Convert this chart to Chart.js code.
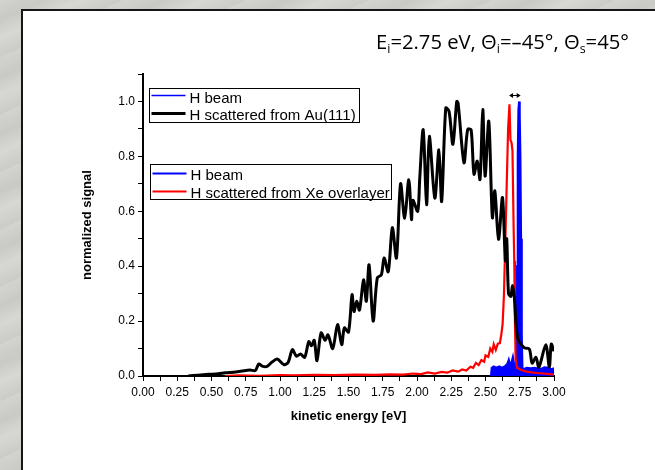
<!DOCTYPE html>
<html>
<head>
<meta charset="utf-8">
<script src="https://cdn.jsdelivr.net/npm/chart.js@4.4.1/dist/chart.umd.min.js"></script>
<style>
  html, body { margin: 0; padding: 0; }
  body {
    width: 655px; height: 470px; overflow: hidden; position: relative;
    background: repeating-linear-gradient(155deg, #d3d3d0 0px, #c9c9c6 18px, #d7d7d4 34px, #cbcbc8 52px);
  }
  #panel {
    position: absolute; left: 21px; top: 9px; right: 0; bottom: 0;
    background: #fff; border-left: 2px solid #161616; border-top: 2px solid #161616;
  }
  #chart { position: absolute; left: 0; top: 0; }
</style>
</head>
<body>
<div id="panel"></div>
<canvas id="chart" width="655" height="470"></canvas>
<script>
// H scattered from Au(111) (black)
var auX = [0.33, 0.40, 0.48, 0.55, 0.60, 0.66, 0.72, 0.78, 0.82, 0.845, 0.87, 0.906, 0.94, 0.98, 1.03, 1.06, 1.09, 1.12, 1.15, 1.18,
           1.21, 1.23, 1.25, 1.27, 1.30, 1.33, 1.35, 1.385, 1.42, 1.45, 1.47, 1.50, 1.526, 1.54, 1.56, 1.58, 1.61, 1.63, 1.65, 1.68,
           1.71, 1.74, 1.76, 1.79, 1.82, 1.85, 1.88, 1.91, 1.94, 1.96, 1.97, 2.005, 2.02, 2.045, 2.07, 2.09, 2.13, 2.16, 2.18, 2.21,
           2.234, 2.262, 2.29, 2.30, 2.343, 2.37, 2.395, 2.416, 2.44, 2.46, 2.48, 2.497, 2.524, 2.55, 2.568, 2.595, 2.624, 2.645, 2.655, 2.668,
           2.685, 2.697, 2.71, 2.734, 2.78, 2.82, 2.84, 2.868, 2.89, 2.94, 2.966, 2.98, 3.00];
var auY = [0.0, 0.003, 0.006, 0.008, 0.012, 0.014, 0.018, 0.022, 0.02, 0.044, 0.036, 0.035, 0.05, 0.062, 0.041, 0.05, 0.096, 0.072, 0.08, 0.068,
           0.125, 0.11, 0.13, 0.056, 0.157, 0.13, 0.15, 0.10, 0.187, 0.114, 0.175, 0.16, 0.296, 0.235, 0.272, 0.24, 0.35, 0.272, 0.405, 0.20,
           0.357, 0.369, 0.43, 0.38, 0.54, 0.43, 0.70, 0.575, 0.715, 0.57, 0.64, 0.60, 0.72, 0.897, 0.624, 0.873, 0.648, 0.824, 0.636, 0.976,
           0.964, 0.844, 1.0, 0.994, 0.777, 0.898, 0.897, 0.735, 0.783, 0.716, 0.971, 0.728, 0.928, 0.577, 0.674, 0.498, 0.65, 0.42, 0.50, 0.30,
           0.29, 0.33, 0.29, 0.14, 0.104, 0.098, 0.047, 0.068, 0.032, 0.114, 0.032, 0.116, 0.09];

// H scattered from Xe overlayer (red)
var xeX = [0.60, 0.70, 0.85, 1.00, 1.10, 1.25, 1.40, 1.55, 1.70, 1.80, 1.90, 1.97, 2.03, 2.08, 2.13, 2.18, 2.22, 2.26, 2.30, 2.33,
           2.36, 2.39, 2.41, 2.43, 2.45, 2.47, 2.49, 2.50, 2.52, 2.535, 2.55, 2.56, 2.575, 2.59, 2.605, 2.615, 2.625, 2.635, 2.645, 2.655,
           2.665, 2.675, 2.682, 2.69, 2.697, 2.705, 2.71, 2.715, 2.72, 2.73, 2.76, 2.80, 2.85, 2.90, 2.95, 3.00];
var xeY = [0.0, 0.002, 0.001, 0.003, 0.002, 0.004, 0.003, 0.005, 0.004, 0.006, 0.005, 0.009, 0.007, 0.013, 0.009, 0.015, 0.012, 0.02, 0.016, 0.024,
           0.02, 0.034, 0.03, 0.048, 0.04, 0.058, 0.052, 0.075, 0.07, 0.10, 0.088, 0.115, 0.095, 0.118, 0.12, 0.15, 0.19, 0.30, 0.50, 0.70,
           0.90, 0.99, 0.86, 0.85, 0.82, 0.55, 0.42, 0.20, 0.06, 0.03, 0.022, 0.016, 0.012, 0.01, 0.008, 0.005];

// H beam (blue)
var beamX = [2.54, 2.545, 2.56, 2.58, 2.60, 2.62, 2.64, 2.66, 2.67, 2.68, 2.69, 2.70, 2.71, 2.72,
             2.725, 2.73, 2.735, 2.74, 2.745, 2.75, 2.755, 2.76, 2.765, 2.77, 2.78, 2.80, 2.83, 2.86, 2.90, 2.93,
             2.96, 2.98, 3.00];
var beamY = [0.0, 0.03, 0.035, 0.03, 0.035, 0.03, 0.035, 0.045, 0.06, 0.04, 0.05, 0.07, 0.04, 0.04,
             0.05, 0.40, 0.80, 0.97, 1.0, 0.95, 0.80, 0.50, 0.15, 0.03, 0.025, 0.03, 0.028, 0.03, 0.025, 0.032,
             0.03, 0.025, 0.028];

var xMajorTicks = [0, 0.25, 0.5, 0.75, 1, 1.25, 1.5, 1.75, 2, 2.25, 2.5, 2.75, 3];
var yMajorTicks = [0, 0.2, 0.4, 0.6, 0.8, 1.0];

var legendTop = ['H beam', 'H scattered from Au(111)'];
var legendBottom = ['H beam', 'H scattered from Xe overlayer'];

var arrowX = [2.672, 2.757];
var arrowY = 1.025;

function toPoints(xs, ys) {
    return xs.map(function (x, i) { return { x: x, y: ys[i] }; });
}

function isMajor(v, list) {
    return list.some(function (m) { return Math.abs(m - v) < 1e-6; });
}

var overlay = {
    id: 'overlay',
    afterDraw: function (chart) {
        var ctx = chart.ctx;
        var xs = chart.scales.x, ys = chart.scales.y;
        ctx.save();

        // double arrow above the peaks
        var ax0 = xs.getPixelForValue(arrowX[0]), ax1 = xs.getPixelForValue(arrowX[1]);
        var ay = Math.round(ys.getPixelForValue(arrowY)) + 0.5;
        ctx.strokeStyle = '#000';
        ctx.fillStyle = '#000';
        ctx.lineWidth = 1;
        ctx.beginPath();
        ctx.moveTo(ax0 + 2, ay); ctx.lineTo(ax1 - 2, ay);
        ctx.stroke();
        ctx.beginPath();
        ctx.moveTo(ax0, ay); ctx.lineTo(ax0 + 4, ay - 2.5); ctx.lineTo(ax0 + 4, ay + 2.5); ctx.closePath();
        ctx.moveTo(ax1, ay); ctx.lineTo(ax1 - 4, ay - 2.5); ctx.lineTo(ax1 - 4, ay + 2.5); ctx.closePath();
        ctx.fill();

        // legend boxes
        function legendBox(x, y, w, h, rows) {
            ctx.fillStyle = '#fff';
            ctx.fillRect(x, y, w, h);
            ctx.strokeStyle = '#000';
            ctx.lineWidth = 1;
            ctx.strokeRect(x, y, w, h);
            ctx.font = '15px "Liberation Sans", Arial, sans-serif';
            ctx.textBaseline = 'alphabetic';
            ctx.textAlign = 'left';
            rows.forEach(function (r) {
                ctx.strokeStyle = r.color;
                ctx.lineWidth = r.width;
                ctx.beginPath();
                ctx.moveTo(x + 2, r.lineY);
                ctx.lineTo(x + 36, r.lineY);
                ctx.stroke();
                ctx.fillStyle = '#000';
                ctx.fillText(r.label, x + 40, r.base);
            });
        }
        legendBox(149.5, 88.5, 210, 34, [
            { label: legendTop[0], color: '#0000ff', width: 1.5, lineY: 95.5, base: 102.5 },
            { label: legendTop[1], color: '#000000', width: 3, lineY: 113.5, base: 120 }
        ]);
        legendBox(150.5, 164.5, 241, 35, [
            { label: legendBottom[0], color: '#0000ff', width: 2, lineY: 173.5, base: 179.5 },
            { label: legendBottom[1], color: '#ff0000', width: 2, lineY: 191.5, base: 197.5 }
        ]);

        // slide title with subscripts
        var segs = [
            { t: 'E', s: false }, { t: 'i', s: true }, { t: '=2.75 eV, \u0398', s: false }, { t: 'i', s: true },
            { t: '=\u201345\u00b0, \u0398', s: false }, { t: 's', s: true }, { t: '=45\u00b0', s: false }
        ];
        var fam = '"Open Sans", "Noto Sans", sans-serif';
        function measure(size) {
            var w = 0;
            segs.forEach(function (g) {
                ctx.font = (g.s ? size * 0.62 : size) + 'px ' + fam;
                w += ctx.measureText(g.t).width;
            });
            return w;
        }
        var size = 20;
        size = size * 253 / measure(size);
        var tx = 376, base = 49;
        ctx.fillStyle = '#000';
        ctx.textBaseline = 'alphabetic';
        segs.forEach(function (g) {
            ctx.font = (g.s ? size * 0.62 : size) + 'px ' + fam;
            ctx.fillText(g.t, tx, g.s ? base + size * 0.2 : base);
            tx += ctx.measureText(g.t).width;
        });
        ctx.restore();
    }
};

var tickFont = { family: '"Liberation Sans", Arial, sans-serif', size: 12 };
var titleFont = { family: '"Liberation Sans", Arial, sans-serif', size: 13, weight: 'bold' };

var ctx = document.getElementById('chart').getContext('2d');
var chart = new Chart(ctx, {
    type: 'line',
    data: {
        datasets: [
            {
                label: 'H scattered from Au(111)',
                data: toPoints(auX, auY),
                borderColor: '#000000',
                borderWidth: 3,
                pointRadius: 0,
                tension: 0.3,
                fill: false
            },
            {
                label: 'H scattered from Xe overlayer',
                data: toPoints(xeX, xeY),
                borderColor: '#ff0000',
                borderWidth: 2.2,
                pointRadius: 0,
                tension: 0,
                fill: false
            },
            {
                label: 'H beam',
                data: toPoints(beamX, beamY),
                borderColor: '#0000ff',
                backgroundColor: '#0000ff',
                borderWidth: 2,
                pointRadius: 0,
                tension: 0,
                fill: 'origin'
            }
        ]
    },
    options: {
        responsive: false,
        animation: false,
        devicePixelRatio: 1,
        layout: { padding: { left: 80, right: 101, top: 74, bottom: 46 } },
        plugins: {
            legend: { display: false },
            tooltip: { enabled: false }
        },
        scales: {
            x: {
                type: 'linear',
                min: 0,
                max: 3,
                afterFit: function (scale) { scale.height = 48; },
                grid: { drawOnChartArea: false, drawTicks: true, tickLength: 5, tickColor: '#000', tickWidth: 1 },
                border: { display: true, color: '#000', width: 2 },
                ticks: {
                    stepSize: 0.125,
                    autoSkip: false,
                    maxRotation: 0,
                    padding: 4,
                    color: '#000',
                    font: tickFont,
                    callback: function (v) { return isMajor(v, xMajorTicks) ? v.toFixed(2) : ''; }
                },
                title: { display: true, text: 'kinetic energy [eV]', color: '#000', font: titleFont, padding: { top: 0, bottom: 0 } }
            },
            y: {
                min: 0,
                max: 1.1,
                afterFit: function (scale) { scale.width = 63; },
                grid: { drawOnChartArea: false, drawTicks: true, tickLength: 5, tickColor: '#000', tickWidth: 1 },
                border: { display: true, color: '#000', width: 2 },
                ticks: {
                    stepSize: 0.1,
                    autoSkip: false,
                    padding: 3,
                    color: '#000',
                    font: tickFont,
                    callback: function (v) { return isMajor(v, yMajorTicks) ? v.toFixed(1) : ''; }
                },
                title: { display: true, text: 'normalized signal', color: '#000', font: titleFont, padding: { top: 0, bottom: 0 } }
            }
        }
    },
    plugins: [overlay]
});
</script>
</body>
</html>
